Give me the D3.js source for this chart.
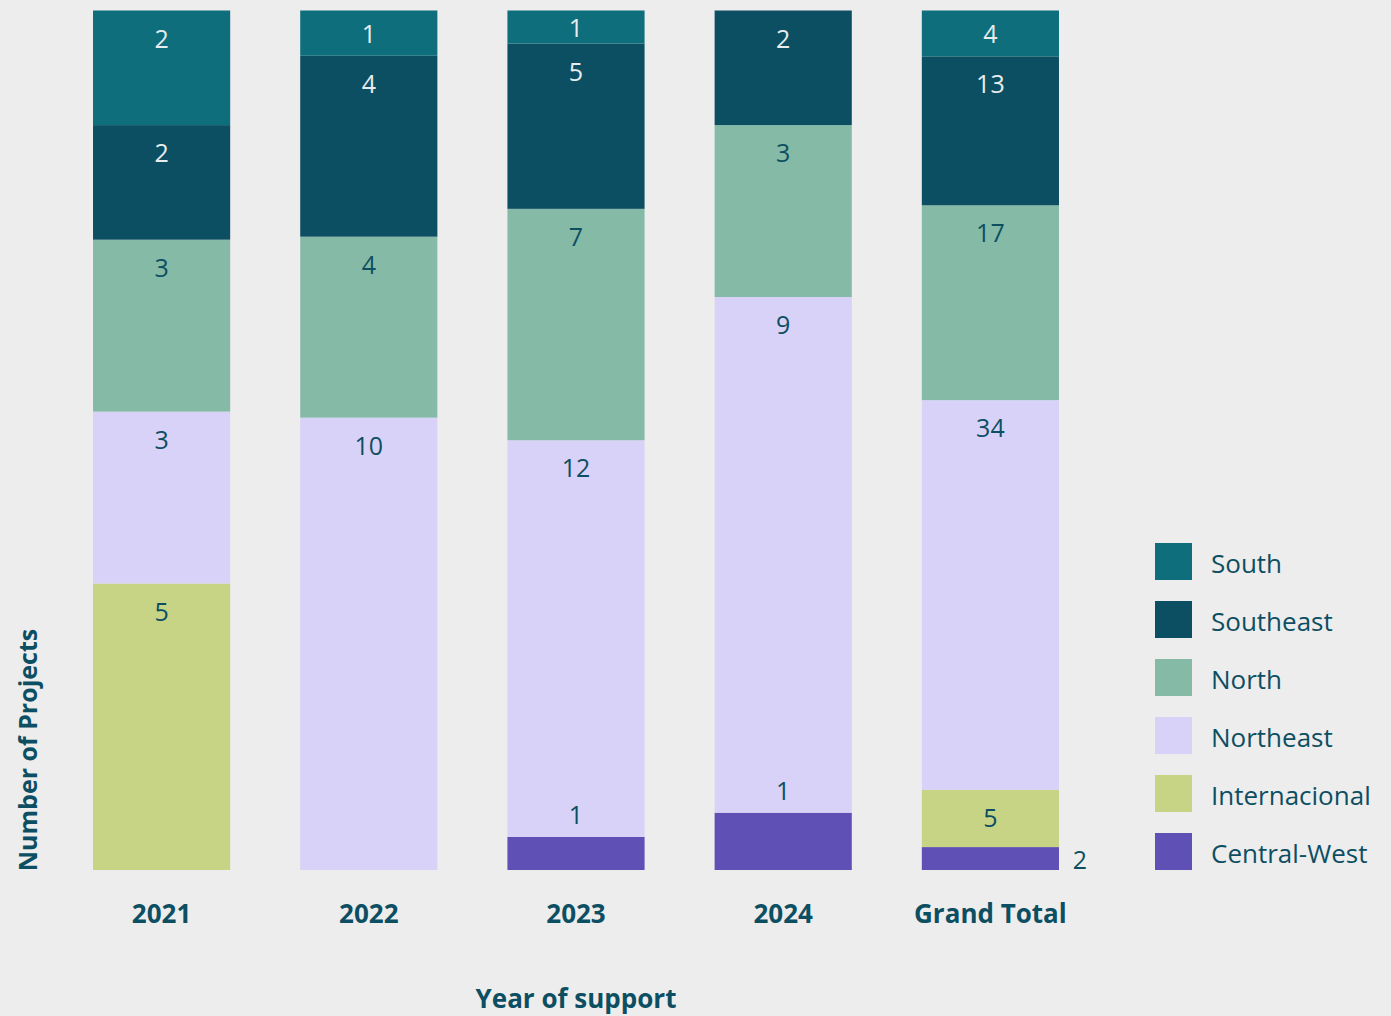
<!DOCTYPE html>
<html><head><meta charset="utf-8">
<script src="https://cdn.jsdelivr.net/npm/d3@7"></script>
<style>
html,body{margin:0;padding:0;background:#ededed;}
svg{display:block;font-family:"Open Sans",sans-serif;}
</style></head>
<body><svg id="c" width="1391" height="1016"></svg>
<script>
const categories = ["2021","2022","2023","2024","Grand Total"];
const seriesNames = ["Central-West","Internacional","Northeast","North","Southeast","South"];
const centralWest   = [0, 0, 1, 1, 2];
const internacional = [5, 0, 0, 0, 5];
const northeast     = [3, 10, 12, 9, 34];
const north         = [3, 4, 7, 3, 17];
const southeast     = [2, 4, 5, 2, 13];
const south         = [2, 1, 1, 0, 4];
const colors = ["#5f50b5","#c7d486","#d8d2f8","#85bba6","#0d4f62","#0e6e7c"];
const labelColors = ["#0d4f62","#0d4f62","#0d4f62","#0d4f62","#e8ecee","#e8ecee"];
const legendOrder = ["South","Southeast","North","Northeast","Internacional","Central-West"];

const seriesVals = [centralWest, internacional, northeast, north, southeast, south];
const rows = categories.map((c,i)=>{
  const r = {cat:c};
  let tot = 0;
  seriesNames.forEach((s,j)=>{ tot += seriesVals[j][i]; });
  seriesNames.forEach((s,j)=>{ r[s] = seriesVals[j][i]/tot; r[s+"_v"] = seriesVals[j][i]; });
  return r;
});
const stack = d3.stack().keys(seriesNames)(rows);

const svg = d3.select("#c");
const ink = "#0d4f62";
const x = d3.scaleBand().domain(categories).range([58, 1094]).paddingInner(0.338).paddingOuter(0.169);
const y = d3.scaleLinear().domain([0,1]).range([870, 10.5]);

const barsG = svg.append("g");
const labelsG = svg.append("g");
stack.forEach((layer, j) => {
  barsG.append("g").selectAll("rect").data(layer).join("rect")
    .attr("x", d => x(d.data.cat))
    .attr("width", x.bandwidth())
    .attr("y", d => y(d[1]))
    .attr("height", d => y(d[0]) - y(d[1]))
    .attr("fill", colors[j]);
  labelsG.append("g").selectAll("text").data(layer.filter(d => d.data[seriesNames[j]+"_v"] > 0)).join("text")
    .attr("font-size", 25)
    .attr("text-anchor", "middle")
    .attr("dominant-baseline", "central")
    .attr("fill", d => seriesNames[j] === "Central-West" ? ink : labelColors[j])
    .each(function(d){
      const top = y(d[1]), bot = y(d[0]), h = bot - top;
      const cx = x(d.data.cat) + x.bandwidth()/2;
      let tx = cx, ty;
      if (seriesNames[j] === "Central-West") {
        if (h < 30) { tx = x(d.data.cat) + x.bandwidth() + 21; ty = top + h/2; }
        else ty = top - 23;
      } else if (h < 56) { ty = top + h/2; }
      else ty = top + 27;
      d3.select(this).attr("x", tx).attr("y", ty).text(d.data[seriesNames[j]+"_v"]);
    });
});

// x axis labels
const xa = svg.append("g").attr("transform","translate(0,870)")
  .call(d3.axisBottom(x).tickSize(0).tickPadding(35));
xa.select(".domain").remove();
xa.selectAll("text").attr("font-size",26).attr("font-weight","bold").attr("fill",ink)
  .attr("font-family","'Open Sans',sans-serif");

svg.append("text").attr("x",576).attr("y",998).attr("text-anchor","middle")
  .attr("dominant-baseline","central").attr("font-size",26).attr("font-weight","bold")
  .attr("fill",ink).text("Year of support");
svg.append("text").attr("transform","translate(27,750) rotate(-90)").attr("text-anchor","middle")
  .attr("dominant-baseline","central").attr("font-size",25).attr("font-weight","bold")
  .attr("fill",ink).text("Number of Projects");

// legend
const lg = svg.append("g");
legendOrder.forEach((s,i)=>{
  const j = seriesNames.indexOf(s);
  const yy = 543 + i*58;
  lg.append("rect").attr("x",1155).attr("y",yy).attr("width",37).attr("height",37).attr("fill",colors[j]);
  lg.append("text").attr("x",1211).attr("y",yy+20).attr("dominant-baseline","central")
    .attr("font-size",26).attr("fill",ink).text(s);
});
</script></body></html>
